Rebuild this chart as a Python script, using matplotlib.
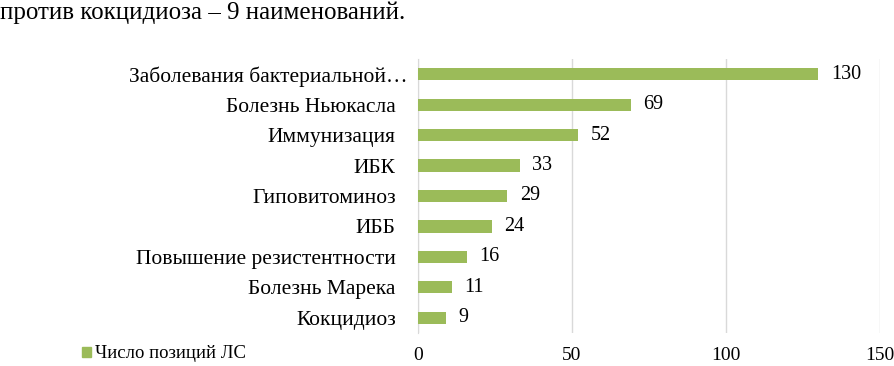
import matplotlib
matplotlib.use("Agg")
import matplotlib.pyplot as plt
from matplotlib.patches import Patch
from matplotlib.transforms import ScaledTranslation

categories = ["Заболевания бактериальной…", "Болезнь Ньюкасла", "Иммунизация", "ИБК",
              "Гиповитоминоз", "ИББ", "Повышение резистентности", "Болезнь Марека", "Кокцидиоз"]
values = [130, 69, 52, 33, 29, 24, 16, 11, 9]
xticks = [0, 50, 100, 150]
series_name = "Число позиций ЛС"
header = "против кокцидиоза – 9 наименований."

plt.rcParams['font.family'] = ['Liberation Serif', 'DejaVu Serif']
green = "#9BBB59"

fig = plt.figure(figsize=(8.94, 3.66), dpi=100)
ax = fig.add_axes([418 / 894, 1 - 333 / 366, (880 - 418) / 894, (333 - 59) / 366])

y = list(range(len(categories)))
ax.barh(y, values, height=0.4, color=green, zorder=3)
ax.set_ylim(len(categories) - 0.5, -0.5)
ax.set_xlim(0, 150)
ax.set_xticks(xticks)
ax.set_xticklabels([str(t) for t in xticks], fontsize=14)
ax.set_yticks(y)
ax.set_yticklabels(categories, fontsize=15.5)
ax.tick_params(axis='both', length=0)
ax.tick_params(axis='x', pad=10)
ax.tick_params(axis='y', pad=16)
ax.grid(axis='x', color='#D9D9D9', linewidth=1, zorder=0)
for s in ['top', 'right', 'bottom']:
    ax.spines[s].set_visible(False)
ax.spines['left'].set_color('#D9D9D9')

# first (truncated) label hangs slightly further right, as in the reference
first = ax.get_yticklabels()[0]
first.set_transform(first.get_transform() + ScaledTranslation(12 / 100, 0, fig.dpi_scale_trans))

for yi, v in zip(y, values):
    ax.text(v + 4, yi, str(v), va='center', ha='left', fontsize=14.5)

fig.text(0.0, 1 - 13 / 366, header, fontsize=18, va='center', ha='left')

fig.legend(handles=[Patch(color=green, label=series_name)], loc='center left',
           bbox_to_anchor=(82 / 894, 1 - 354 / 366), frameon=False, fontsize=13.5,
           handlelength=0.5, handleheight=0.5, handletextpad=0.2, borderaxespad=0,
           borderpad=0)

fig.savefig("out.png", dpi=100)
